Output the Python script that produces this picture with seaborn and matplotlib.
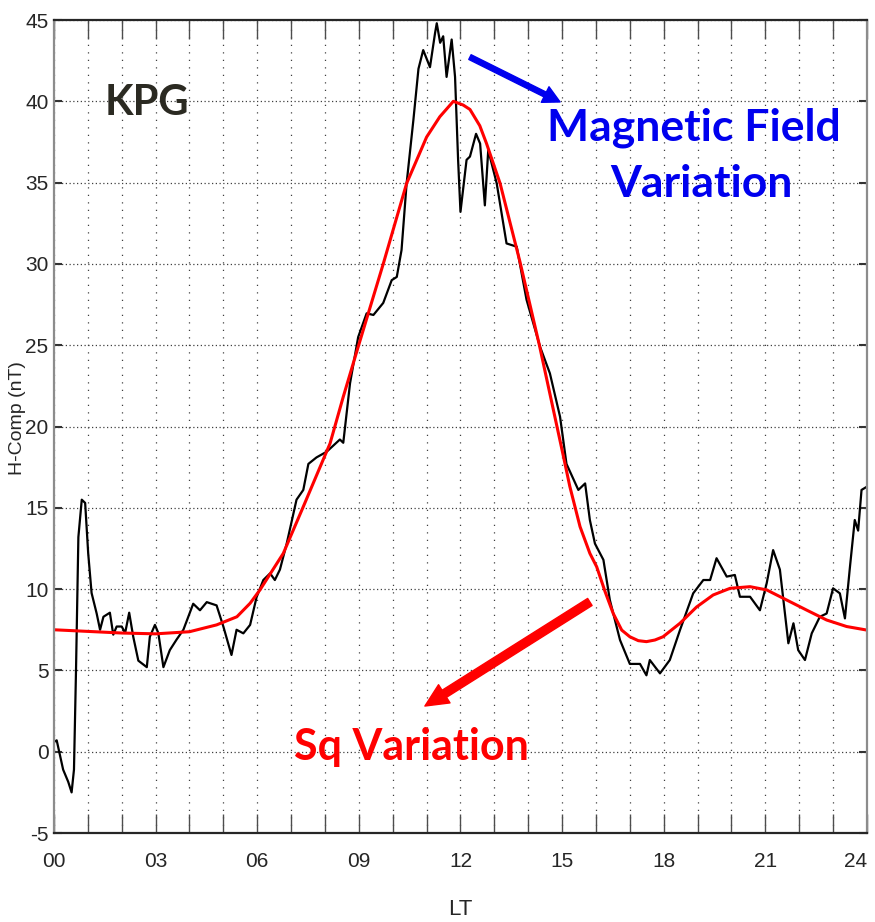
import matplotlib
matplotlib.use("Agg")
import matplotlib.pyplot as plt
from matplotlib.ticker import MultipleLocator
import seaborn as sns
import pandas as pd

# -- data (LT in hours, H in nT)
t_mag = [0.00, 0.08, 0.27, 0.42, 0.52, 0.59, 0.65, 0.72, 0.82, 0.92,
         1.01, 1.11, 1.26, 1.36, 1.46, 1.65, 1.75, 1.85, 2.00, 2.10,
         2.22, 2.34, 2.49, 2.74, 2.83, 2.98, 3.08, 3.23, 3.42, 3.62,
         3.82, 4.11, 4.31, 4.51, 4.80, 5.00, 5.24, 5.39, 5.59, 5.79,
         5.98, 6.18, 6.38, 6.52, 6.67, 6.87, 7.16, 7.36, 7.51, 7.75,
         8.05, 8.44, 8.54, 8.74, 8.98, 9.23, 9.43, 9.72, 9.97, 10.12,
         10.26, 10.41, 10.61, 10.76, 10.90, 11.10, 11.25, 11.30, 11.40, 11.49,
         11.59, 11.74, 11.84, 11.93, 12.00, 12.18, 12.28, 12.46, 12.58, 12.72,
         12.82, 13.07, 13.36, 13.66, 13.95, 14.35, 14.64, 14.94, 15.13, 15.48,
         15.68, 15.82, 15.97, 16.22, 16.41, 16.71, 17.00, 17.30, 17.49, 17.59,
         17.89, 18.18, 18.48, 18.87, 19.17, 19.37, 19.56, 19.86, 20.10, 20.25,
         20.55, 20.84, 21.04, 21.23, 21.43, 21.68, 21.83, 21.97, 22.17, 22.37,
         22.61, 22.81, 23.00, 23.20, 23.35, 23.50, 23.64, 23.74, 23.84, 24.00]
h_mag = [0.6, 0.7, -1.1, -1.85, -2.5, -1.1, 5.0, 13.2, 15.5, 15.3,
         12.2, 9.76, 8.5, 7.5, 8.3, 8.55, 7.2, 7.7, 7.7, 7.3,
         8.55, 7.07, 5.6, 5.2, 7.07, 7.8, 7.3, 5.2, 6.25, 6.9,
         7.5, 9.1, 8.7, 9.2, 9.0, 7.7, 5.95, 7.5, 7.28, 7.8,
         9.5, 10.56, 10.97, 10.56, 11.2, 12.8, 15.5, 16.1, 17.7, 18.1,
         18.45, 19.2, 19.0, 22.66, 25.5, 26.96, 26.86, 27.6, 29.0, 29.2,
         30.85, 34.95, 38.85, 42.0, 43.15, 42.1, 44.2, 44.8, 43.6, 44.0,
         41.5, 43.8, 41.5, 36.4, 33.2, 36.4, 36.6, 38.0, 37.4, 33.6,
         37.0, 34.95, 31.26, 31.06, 27.8, 24.9, 23.27, 20.6, 17.7, 16.1,
         16.5, 14.25, 12.8, 11.8, 9.33, 6.87, 5.4, 5.4, 4.7, 5.64,
         4.82, 5.64, 7.48, 9.74, 10.56, 10.56, 11.9, 10.77, 10.87, 9.53,
         9.53, 8.7, 10.36, 12.4, 11.2, 6.67, 7.9, 6.25, 5.64, 7.28,
         8.3, 8.5, 10.05, 9.74, 8.2, 11.4, 14.25, 13.6, 16.1, 16.3]

t_sq = [0, 1, 2, 3, 4, 4.8, 5.4, 5.79, 6.08, 6.77,
        7.36, 8.15, 8.54, 8.98, 9.72, 10.41, 11.0, 11.39, 11.79, 12.08,
        12.28, 12.57, 12.77, 13.17, 13.76, 14.33, 15.01, 15.23, 15.53, 15.82,
        16.02, 16.27, 16.51, 16.76, 17.0, 17.25, 17.49, 17.74, 17.98, 18.48,
        18.97, 19.46, 19.96, 20.55, 21.04, 21.63, 22.22, 22.81, 23.4, 24]
h_sq = [7.5, 7.4, 7.3, 7.25, 7.38, 7.8, 8.3, 9.13, 9.95, 12.2,
        15.07, 18.96, 21.83, 24.9, 30.0, 34.95, 37.8, 39.05, 40.0, 39.77,
        39.5, 38.5, 37.4, 34.95, 30.1, 25.0, 18.45, 16.3, 13.84, 12.2,
        11.38, 9.84, 8.5, 7.48, 7.07, 6.83, 6.77, 6.87, 7.07, 7.9,
        8.9, 9.64, 10.05, 10.15, 9.95, 9.33, 8.71, 8.1, 7.7, 7.48]

x_ticks = [0, 3, 6, 9, 12, 15, 18, 21, 24]
x_labels = ["00", "03", "06", "09", "12", "15", "18", "21", "24"]
y_ticks = list(range(-5, 50, 5))

mag = pd.DataFrame({"LT": t_mag, "H": h_mag})
sq = pd.DataFrame({"LT": t_sq, "H": h_sq})

sns.set_style("white")
plt.rcParams["font.family"] = ["Liberation Sans", "DejaVu Sans"]
plt.rcParams["axes.unicode_minus"] = False

fig = plt.figure(figsize=(8.75, 9.22), dpi=100)
ax = fig.add_axes([0.0617, 0.0965, 0.9291, 0.8818])

sns.lineplot(data=mag, x="LT", y="H", color="black", linewidth=1.6,
             sort=False, estimator=None, ax=ax)
sns.lineplot(data=sq, x="LT", y="H", color="#ff0000", linewidth=2.2,
             sort=False, estimator=None, ax=ax)

ax.set_xlim(0, 24)
ax.set_ylim(-5, 45)
ax.set_xticks(x_ticks)
ax.set_xticklabels(x_labels)
ax.xaxis.set_minor_locator(MultipleLocator(1))
ax.set_yticks(y_ticks)
# keep the last label inside the figure
ax.get_xticklabels()[-1].set_horizontalalignment("right")

ax.grid(True, which="both", axis="x", color="0.25", linestyle=(0, (1, 5)), linewidth=0.9)
ax.grid(True, which="major", axis="y", color="0.25", linestyle=(0, (1, 2)), linewidth=0.9)

ax.tick_params(axis="x", which="both", direction="in", length=14, width=1,
               color="0.3", top=True, bottom=True, pad=14, labelsize=15)
ax.tick_params(axis="y", which="major", direction="in", length=6, width=1.5,
               color="0.2", left=True, right=True, pad=4, labelsize=15)

for side in ["top", "bottom"]:
    ax.spines[side].set_color("0.15")
    ax.spines[side].set_linewidth(1.6)
for side in ["left", "right"]:
    ax.spines[side].set_color("0.55")
    ax.spines[side].set_linewidth(1.6)

ax.set_xlabel("LT", fontsize=16, labelpad=20)
ax.set_ylabel("H-Comp (nT)", fontsize=14)
ax.yaxis.set_label_coords(-0.035, 0.51)

# -- annotations
bold = ["Lato", "DejaVu Sans"]
ax.text(2.75, 39.16, "KPG", fontsize=30, fontweight="bold", color="#2b2a22",
        ha="center", va="baseline", family=bold)
ax.text(18.89, 37.62, "Magnetic Field", fontsize=32, fontweight="bold",
        color="#0000ee", ha="center", va="baseline", family=bold)
ax.text(19.1, 34.11, "Variation", fontsize=32, fontweight="bold",
        color="#0000ee", ha="center", va="baseline", family=bold)
ax.text(10.54, -0.51, "Sq Variation", fontsize=31, fontweight="bold",
        color="#ff0000", ha="center", va="baseline", family=bold)

ax.annotate("", xy=(14.94, 39.96), xytext=(12.28, 42.72),
            arrowprops=dict(arrowstyle="simple,head_length=1.2,head_width=1.25,tail_width=0.38",
                            color="#0000ee", mutation_scale=10, shrinkA=0, shrinkB=0))
ax.annotate("", xy=(10.95, 2.81), xytext=(15.82, 9.21),
            arrowprops=dict(arrowstyle="simple,head_length=1.65,head_width=1.55,tail_width=0.6",
                            color="#ff0000", mutation_scale=10, shrinkA=0, shrinkB=0))

fig.savefig("out.png", dpi=100)
